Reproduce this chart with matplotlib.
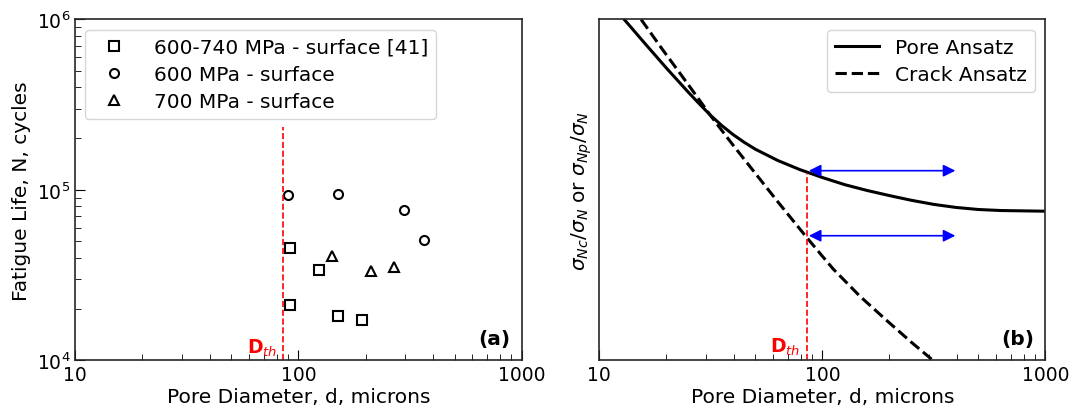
import matplotlib
matplotlib.use("Agg")
import matplotlib.pyplot as plt
from matplotlib.ticker import LogLocator, FuncFormatter, NullFormatter

plt.rcParams['font.family'] = ['DejaVu Sans']
plt.rcParams['mathtext.fontset'] = 'dejavusans'

# (a) fatigue life vs pore diameter
sq_d = [91.9, 124, 91.9, 151, 192]
sq_N = [4.53e4, 3.38e4, 2.10e4, 1.82e4, 1.72e4]
ci_d = [89.5, 151, 297, 365]
ci_N = [9.28e4, 9.48e4, 7.64e4, 5.09e4]
tr_d = [142, 211, 269]
tr_N = [4.06e4, 3.35e4, 3.50e4]
d_th = 85

# (b) normalised strength (fraction of axis height)
pore_d = [12.94, 15.85, 19.95, 25.1, 28.3, 31.6, 35.5, 39.8, 44.7, 50.1, 63.1, 79.4,
          100, 125.9, 158.5, 199.5, 251, 316, 398, 501, 631, 1000]
pore_y = [1.0, 0.933, 0.858, 0.786, 0.750, 0.718, 0.688, 0.662, 0.639, 0.619, 0.586, 0.559,
          0.536, 0.515, 0.498, 0.483, 0.469, 0.457, 0.448, 0.442, 0.439, 0.437]
crack_d = [15.4, 19.05, 25.1, 29.3, 31.6, 37.3, 39.8, 49.0, 63.1, 85.1, 100, 112, 147.6,
           194.5, 251, 316]
crack_y = [1.0, 0.915, 0.808, 0.747, 0.717, 0.655, 0.631, 0.556, 0.465, 0.36, 0.305, 0.267,
           0.187, 0.116, 0.052, -0.003]
arrow_d = [87, 395]
arrow_y = [0.556, 0.365]

fig = plt.figure(figsize=(10.75, 4.14), dpi=100)
ax1 = fig.add_axes([0.070, 0.128, 0.4153, 0.8225])
ax2 = fig.add_axes([0.5575, 0.128, 0.4149, 0.8225])

fs = 14.5
tfs = 13.5
mk = dict(linestyle='none', mfc='none', mec='black', mew=1.5, ms=6.5)
ax1.plot(sq_d, sq_N, marker='s', label='600-740 MPa - surface [41]', **mk)
ax1.plot(ci_d, ci_N, marker='o', label='600 MPa - surface', **mk)
ax1.plot(tr_d, tr_N, marker='^', label='700 MPa - surface', **mk)
ax1.vlines(d_th, 1e4, 2.33e5, colors='red', linestyles='--', lw=1.2)
ax1.text(80, 1.03e4, r'$\mathbf{D}_{th}$', color='red', fontsize=13.5, ha='right', va='bottom')
ax1.set_xscale('log')
ax1.set_yscale('log')
ax1.set_xlim(10, 1000)
ax1.set_ylim(1e4, 1e6)
ax1.set_xlabel('Pore Diameter, d, microns', fontsize=fs, labelpad=2)
ax1.set_ylabel('Fatigue Life, N, cycles', fontsize=fs)
ax1.legend(loc='upper left', fontsize=fs, labelspacing=0.4, handletextpad=1.0)
ax1.text(0.975, 0.035, '(a)', transform=ax1.transAxes, ha='right', va='bottom',
         fontsize=fs, fontweight='bold')

ax2.plot(pore_d, pore_y, color='black', lw=2.2, label='Pore Ansatz')
ax2.plot(crack_d, crack_y, color='black', lw=2.2, ls='--', label='Crack Ansatz')
ax2.vlines(d_th, 0, 0.548, colors='red', linestyles='--', lw=1.2)
for y in arrow_y:
    ax2.annotate('', xy=(arrow_d[0], y), xytext=(arrow_d[1], y),
                 arrowprops=dict(arrowstyle='<|-|>', color='blue', lw=1.2,
                                 mutation_scale=18, shrinkA=0, shrinkB=0))
ax2.text(80, 0.01, r'$\mathbf{D}_{th}$', color='red', fontsize=13.5, ha='right', va='bottom')
ax2.set_xscale('log')
ax2.set_xlim(10, 1000)
ax2.set_ylim(0, 1)
ax2.set_yticks([])
ax2.set_xlabel('Pore Diameter, d, microns', fontsize=fs, labelpad=2)
ax2.set_ylabel(r'$\sigma_{Nc}/\sigma_N$ or $\sigma_{Np}/\sigma_N$', fontsize=fs, labelpad=4)
ax2.legend(loc='upper right', fontsize=fs, labelspacing=0.4, handlelength=2.2)
ax2.text(0.975, 0.035, '(b)', transform=ax2.transAxes, ha='right', va='bottom',
         fontsize=fs, fontweight='bold')

fmt = FuncFormatter(lambda v, p: '%d' % v)
for ax in (ax1, ax2):
    ax.xaxis.set_major_locator(LogLocator(base=10))
    ax.xaxis.set_major_formatter(fmt)
    ax.xaxis.set_minor_formatter(NullFormatter())
    ax.tick_params(which='both', direction='in', top=False, right=False, labelsize=tfs)
    ax.tick_params(which='major', length=7)
    ax.tick_params(which='minor', length=4)
    for s in ax.spines.values():
        s.set_linewidth(1.2)
        s.set_color('0.15')

fig.savefig('out.png', dpi=100)
